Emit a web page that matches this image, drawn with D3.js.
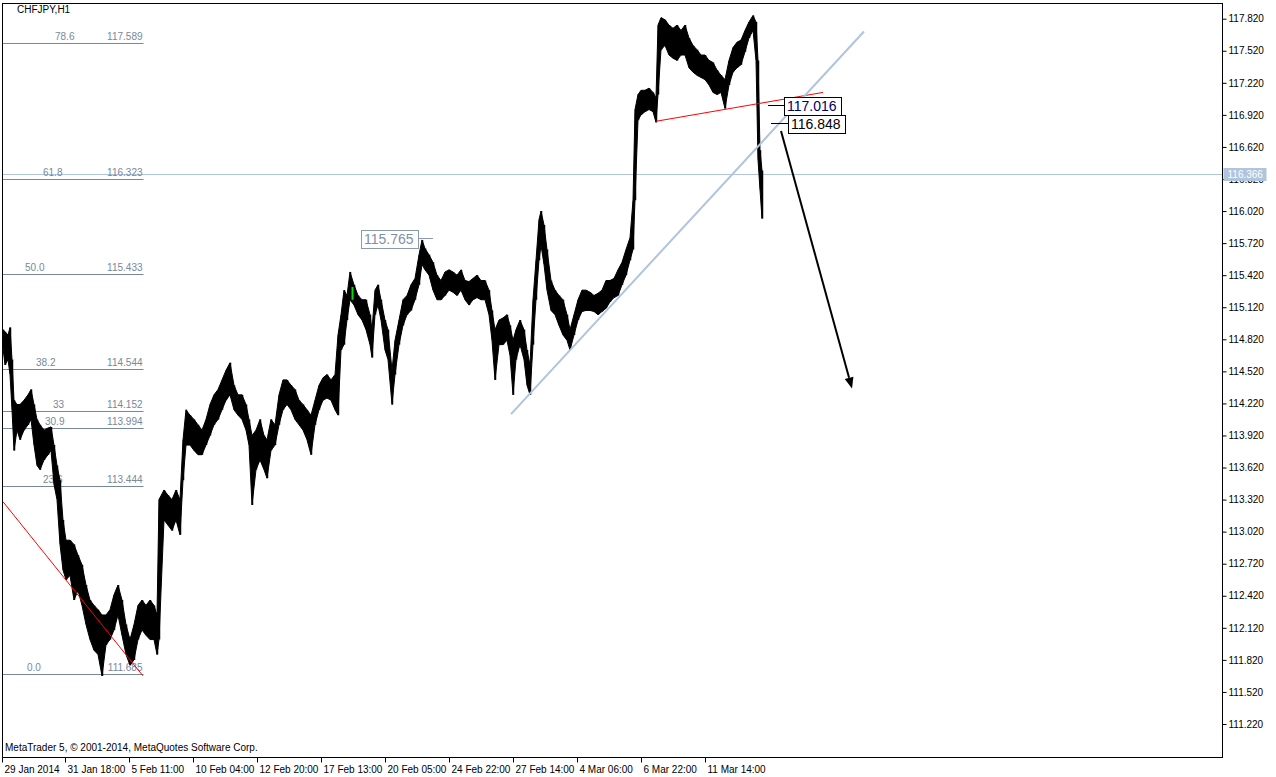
<!DOCTYPE html>
<html><head><meta charset="utf-8">
<script src="https://cdn.jsdelivr.net/npm/d3@7"></script>
<style>
html,body{margin:0;padding:0;background:#fff;overflow:hidden;}
svg{display:block;}
text{font-family:"Liberation Sans",Arial,sans-serif;}
</style></head><body>
<svg id="chart" width="1276" height="777"></svg>
<script>
// ---------------- DATA ----------------
const symbolTitle = "CHFJPY,H1";
const copyright = "MetaTrader 5, \u00A9 2001-2014, MetaQuotes Software Corp.";

// hourly bar index (from 29 Jan 2014), sampled bar highs and lows
const bars = [0,2,5,7,9,11,14,17,21,25,28,31,34,37,41,45,48,51,54,57,60,63,67,71,75,79,83,87,91,95,99,103,107,111,115,119,123,127,131,135,139,143,147,151,154,156,161,165,169,173,177,180,183,187,191,195,199,203,207,211,215,219,223,227,231,235,239,243,246,249,253,257,261,264,268,272,276,280,284,288,292,296,300,304,308,312,316,320,324,328,332,335,338,341,344,347,351,355,359,363,367,369,372,375,378,382,385,389,392,396,400,404,408,412,416,419,422,426,430,434,438,442,446,450,454,458,462,466,470,474,478,482,486,489,492,496,500,504,507,510,513,517,521,524,527,530,533,536,538,541,544,548,552,556,560,564,567,571,575,579,583,587,591,595,599,603,607,611,615,619,623,627,630,632,635,638,642,646,650,653,655,658,662,666,670,674,678,682,686,690,694,698,702,706,710,714,718,722,726,730,734,738,742,746,750,753,755,757,759];
const highs = [114.91,114.89,114.86,114.93,114.63,114.25,114.21,114.21,114.25,114.30,114.35,114.21,114.07,114.02,113.97,113.99,114.00,113.83,113.64,113.50,113.13,112.94,112.94,112.90,112.80,112.71,112.52,112.38,112.33,112.29,112.24,112.24,112.29,112.43,112.52,112.38,112.15,112.01,112.15,112.33,112.38,112.33,112.38,112.33,112.24,113.32,113.41,113.36,113.32,113.41,113.32,113.88,114.16,114.11,114.07,114.02,113.97,114.07,114.21,114.30,114.35,114.44,114.53,114.60,114.39,114.30,114.30,114.21,114.07,113.92,113.97,114.07,113.92,113.88,114.07,114.02,114.30,114.44,114.44,114.39,114.35,114.25,114.21,114.16,114.11,114.25,114.39,114.46,114.49,114.44,114.49,114.86,115.05,115.28,115.23,115.45,115.33,115.23,115.19,115.19,115.05,114.91,115.28,115.33,115.19,115.00,114.91,114.53,114.81,115.00,115.19,115.23,115.33,115.39,115.61,115.75,115.67,115.61,115.54,115.42,115.37,115.45,115.47,115.45,115.42,115.47,115.37,115.36,115.39,115.42,115.37,115.37,115.28,115.09,114.91,115.00,115.02,115.05,114.95,114.81,114.91,115.00,114.91,114.72,114.58,115.19,115.56,115.94,116.02,115.89,115.66,115.37,115.28,115.23,115.19,115.05,114.91,115.05,115.19,115.28,115.28,115.26,115.23,115.25,115.28,115.37,115.37,115.39,115.47,115.54,115.66,115.77,116.12,116.97,117.11,117.15,117.15,117.17,117.13,117.08,117.76,117.83,117.81,117.76,117.73,117.76,117.71,117.76,117.64,117.57,117.53,117.48,117.48,117.43,117.41,117.34,117.29,117.25,117.43,117.55,117.60,117.62,117.71,117.79,117.85,117.79,117.43,116.59,116.40];
const lows = [114.74,114.58,114.63,114.49,114.16,113.78,113.97,113.88,113.97,114.02,114.07,113.83,113.64,113.60,113.69,113.74,113.78,113.46,113.32,112.90,112.66,112.57,112.61,112.38,112.47,112.33,112.15,112.01,111.91,111.87,111.67,111.96,112.01,112.10,112.24,112.05,111.87,111.77,111.82,112.01,112.10,112.05,112.01,112.01,111.87,112.01,113.13,113.08,113.03,113.13,112.99,113.50,113.83,113.83,113.78,113.74,113.74,113.83,113.92,114.02,114.07,114.16,114.25,114.30,114.16,114.11,114.07,113.97,113.83,113.27,113.60,113.69,113.60,113.52,113.78,113.83,114.02,114.16,114.21,114.16,114.07,114.02,113.97,113.88,113.74,114.02,114.16,114.25,114.27,114.25,114.16,114.11,114.72,114.77,115.00,115.19,115.14,115.05,115.00,114.91,114.77,114.65,115.05,115.14,115.00,114.72,114.63,114.21,114.49,114.77,114.95,115.05,115.09,115.19,115.33,115.52,115.47,115.42,115.28,115.19,115.19,115.23,115.28,115.26,115.23,115.28,115.19,115.14,115.19,115.21,115.19,115.19,115.05,114.81,114.44,114.77,114.77,114.81,114.67,114.30,114.63,114.77,114.63,114.39,114.30,114.77,115.19,115.56,115.70,115.52,115.28,115.09,115.05,114.95,114.86,114.81,114.72,114.86,115.00,115.08,115.09,115.09,115.08,115.05,115.08,115.11,115.17,115.21,115.23,115.33,115.42,115.56,115.66,116.12,116.87,116.92,116.95,116.97,116.95,116.85,117.11,117.53,117.57,117.48,117.45,117.43,117.48,117.48,117.36,117.32,117.29,117.27,117.25,117.20,117.13,117.11,117.13,116.98,117.20,117.32,117.36,117.39,117.51,117.64,117.71,117.43,116.50,116.22,115.95];
const greenBarIndex = [349];
const greenBarHigh = [115.31];
const greenBarLow = [115.19];

const priceTicks = [117.82,117.52,117.22,116.92,116.62,116.32,116.02,115.72,115.42,115.12,114.82,114.52,114.22,113.92,113.62,113.32,113.02,112.72,112.42,112.12,111.82,111.52,111.22];
const timeTickBars = [-1,62,126,190,254,318,382,446,510,574,638,702];
const timeTickLabels = ["29 Jan 2014","31 Jan 18:00","5 Feb 11:00","10 Feb 04:00","12 Feb 20:00","17 Feb 13:00","20 Feb 05:00","24 Feb 22:00","27 Feb 14:00","4 Mar 06:00","6 Mar 22:00","11 Mar 14:00"];

const fibPercents = ["78.6","61.8","50.0","38.2","33","30.9","23.6","0.0"];
const fibPrices = [117.589,116.323,115.433,114.544,114.152,113.994,113.444,111.685];
const fibStartBar = 0, fibEndBar = 140;

const currentPrice = 116.366;
const blueTrendBars = [508, 861], blueTrendPrices = [114.12, 117.70];
const redTopBars = [653, 820], redTopPrices = [116.86, 117.13];
const redLeftBars = [0, 140], redLeftPrices = [113.30, 111.67];
const arrowBars = [778, 849], arrowPrices = [116.77, 114.36];
const priceLabelValues = [115.765, 117.016, 116.848];
const priceLabelBars = [430, 765, 768];

// ---------------- LAYOUT ----------------
const W = 1276, H = 777;
const L = 2.5, R = 1222.5, T = 3.5, B = 757.5;
const svg = d3.select("#chart");
const x = d3.scaleLinear().domain([0, 1219]).range([3, 1222]);
const y = d3.scaleLinear().domain([111.22, 117.82]).range([724, 18.7]);

svg.append("defs").append("clipPath").attr("id","plot")
  .append("rect").attr("x",L).attr("y",T).attr("width",R-L).attr("height",B-T);
const plot = svg.append("g").attr("clip-path","url(#plot)");

// current price line
plot.append("line").attr("x1",L).attr("x2",R)
  .attr("y1",Math.round(y(currentPrice))+0.5).attr("y2",Math.round(y(currentPrice))+0.5)
  .attr("stroke","#b0c4de").attr("stroke-width",1);

// fib levels
const fibTextX = [55,43,25,36,53,45,43,27];
fibPrices.forEach((p,i)=>{
  const yy = Math.round(y(p))+0.5;
  plot.append("line").attr("x1",x(fibStartBar)).attr("x2",x(fibEndBar)+0.5)
    .attr("y1",yy).attr("y2",yy).attr("stroke","#778899").attr("stroke-width",1);
  plot.append("text").attr("x",fibTextX[i]).attr("y",yy-3.5)
    .attr("font-size","10px").attr("fill","#778899").text(fibPercents[i]);
  plot.append("text").attr("x",x(fibEndBar)-0.5).attr("y",yy-3.5).attr("text-anchor","end")
    .attr("font-size","10px").attr("fill","#778899").text(p.toFixed(3));
});

// price series
const pts = bars.map((b,i)=>({b, h:highs[i], l:lows[i]}));
const area = d3.area().x(d=>x(d.b)).y0(d=>y(d.l)).y1(d=>y(d.h)).curve(d3.curveLinear);
plot.append("path").datum(pts).attr("d",area).attr("fill","#000").attr("stroke","#000").attr("stroke-width",1);
plot.selectAll("line.bar").data(pts).enter().append("line").attr("class","bar")
  .attr("x1",d=>x(d.b)+0.5).attr("x2",d=>x(d.b)+0.5)
  .attr("y1",d=>y(d.h)).attr("y2",d=>y(d.l)).attr("stroke","#000").attr("stroke-width",1.5);
greenBarIndex.forEach((b,i)=>{
  plot.append("line").attr("x1",x(b)+0.5).attr("x2",x(b)+0.5)
    .attr("y1",y(greenBarHigh[i])).attr("y2",y(greenBarLow[i])).attr("stroke","#00e000").attr("stroke-width",2);
});

// red trendlines
plot.append("line").attr("x1",x(redLeftBars[0])).attr("y1",y(redLeftPrices[0]))
  .attr("x2",x(redLeftBars[1])).attr("y2",y(redLeftPrices[1])).attr("stroke","#ff0000").attr("stroke-width",1);
plot.append("line").attr("x1",x(redTopBars[0])).attr("y1",y(redTopPrices[0]))
  .attr("x2",x(redTopBars[1])).attr("y2",y(redTopPrices[1])).attr("stroke","#ff0000").attr("stroke-width",1);
// blue trendline
plot.append("line").attr("x1",x(blueTrendBars[0])).attr("y1",y(blueTrendPrices[0]))
  .attr("x2",x(blueTrendBars[1])).attr("y2",y(blueTrendPrices[1])).attr("stroke","#b0c4de").attr("stroke-width",2);

// arrow
const ax1 = x(arrowBars[0]), ay1 = y(arrowPrices[0]), ax2 = x(arrowBars[1]), ay2 = y(arrowPrices[1]);
const ang = Math.atan2(ay2-ay1, ax2-ax1), headLen = 11, headW = 4.5;
const bx = ax2 - headLen*Math.cos(ang), by = ay2 - headLen*Math.sin(ang);
plot.append("line").attr("x1",ax1).attr("y1",ay1).attr("x2",bx).attr("y2",by).attr("stroke","#000").attr("stroke-width",2);
plot.append("path").attr("d",`M${ax2},${ay2}L${bx+headW*Math.sin(ang)},${by-headW*Math.cos(ang)}L${bx-headW*Math.sin(ang)},${by+headW*Math.cos(ang)}Z`).attr("fill","#000");

// price labels (boxed)
const lbl = [
  {side:"left", color:"#7f8fa8", border:"#8b9ab0", len:15},
  {side:"right", color:"#000060", border:"#000", len:16},
  {side:"right", color:"#000", border:"#000", len:17}
];
priceLabelValues.forEach((p,i)=>{
  const yy = Math.round(y(p))+0.5, bxx = x(priceLabelBars[i]), s = lbl[i];
  const bw = 57, bh = 18;
  let lineX2, boxX;
  if (s.side==="left"){ lineX2 = bxx - s.len; boxX = lineX2 - bw; }
  else { lineX2 = bxx + s.len; boxX = lineX2; }
  plot.append("line").attr("x1",bxx).attr("x2",lineX2).attr("y1",yy).attr("y2",yy)
    .attr("stroke",s.side==="left"?"#8b9ab0":"#000").attr("stroke-width",1);
  plot.append("rect").attr("x",Math.round(boxX)+0.5).attr("y",Math.round(yy-bh/2)+0.5).attr("width",bw).attr("height",bh)
    .attr("fill","#fff").attr("stroke",s.border).attr("stroke-width",1);
  plot.append("text").attr("x",boxX+3).attr("y",yy+5.5).attr("font-size","14px").attr("fill",s.color).text(p.toFixed(3));
});

// frame
svg.append("rect").attr("x",L).attr("y",T).attr("width",R-L).attr("height",B-T)
  .attr("fill","none").attr("stroke","#000").attr("stroke-width",1);

// y axis
const yAxis = d3.axisRight(y).tickValues(priceTicks).tickFormat(d3.format(".3f")).tickSizeInner(4).tickSizeOuter(0).tickPadding(2);
const gy = svg.append("g").attr("transform",`translate(${R},0)`).call(yAxis);
gy.select(".domain").remove();
gy.selectAll("text").attr("font-family","Liberation Sans, Arial, sans-serif").attr("font-size","10px").attr("fill","#000");
gy.selectAll("line").attr("stroke","#000");

// current price tag on axis
const cy = y(currentPrice);
svg.append("rect").attr("x",R+1).attr("y",Math.round(cy)-6).attr("width",43).attr("height",13).attr("fill","#b0c4de");
svg.append("text").attr("x",R+5).attr("y",Math.round(cy)+4).attr("font-size","10px").attr("fill","#fff").text(currentPrice.toFixed(3));

// x axis
const xAxis = d3.axisBottom(x).tickValues(timeTickBars).tickFormat((d,i)=>timeTickLabels[i]).tickSizeInner(5).tickSizeOuter(0).tickPadding(3);
const gx = svg.append("g").attr("transform",`translate(0,${B})`).call(xAxis);
gx.select(".domain").remove();
gx.selectAll("text").attr("text-anchor","start").attr("dx","2").attr("font-family","Liberation Sans, Arial, sans-serif").attr("font-size","10px").attr("fill","#000");
gx.selectAll("line").attr("stroke","#000");

// title & copyright
svg.append("text").attr("x",17).attr("y",13).attr("font-size","10px").attr("fill","#000").text(symbolTitle);
svg.append("text").attr("x",5).attr("y",751).attr("font-size","10px").attr("fill","#000").text(copyright);
</script>
</body></html>
